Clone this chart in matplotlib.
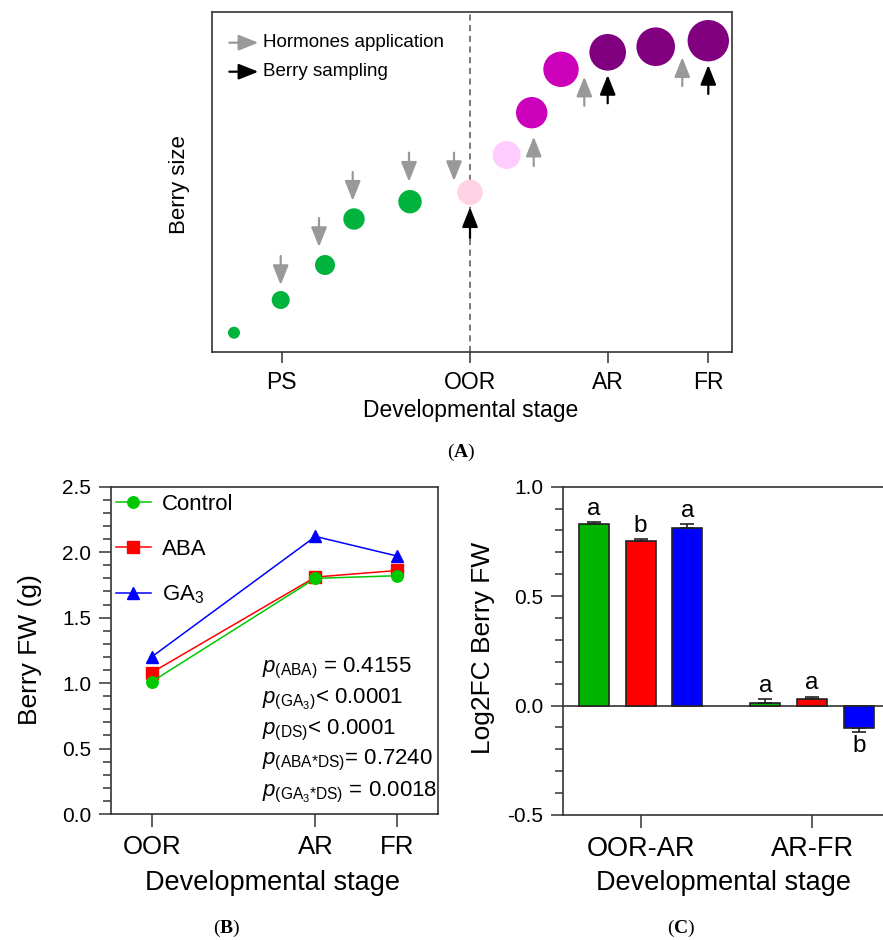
import matplotlib
matplotlib.use("Agg")
import matplotlib.pyplot as plt
from matplotlib.ticker import MultipleLocator

plt.rcParams['font.family'] = ['Liberation Sans', 'DejaVu Sans']
plt.rcParams['mathtext.fontset'] = 'custom'
plt.rcParams['mathtext.rm'] = 'Liberation Sans'
plt.rcParams['mathtext.it'] = 'Liberation Sans:italic'
plt.rcParams['mathtext.bf'] = 'Liberation Serif:bold'

# ---------------- data ----------------
# Panel A: berry growth scheme (arbitrary time / size units)
stage_ticks_A = [70, 258.3, 396, 496.6]
stage_labels_A = ['PS', 'OOR', 'AR', 'FR']
berry_time = [22.3, 69, 113.3, 142.3, 198.3, 258.3, 295, 320, 349.3, 396, 444, 496.6]
berry_size = [19, 51.7, 86.7, 132.7, 150, 159.4, 196.7, 239, 282.4, 299.4, 305, 311]
berry_radius_px = [6, 9, 10, 10.7, 11.7, 12.7, 14, 15.7, 17.7, 18.3, 19.3, 20.7]
berry_colors = ['#00B33C'] * 5 + ['#FFD3E3', '#FFCCFF', '#CC00BB', '#CC00BB',
                                  '#800080', '#800080', '#800080']
# hormone application arrows (x, tail y, tip y)
horm_x = [69, 107.3, 141, 197.3, 242.3, 322, 372.6, 470.6]
horm_tail = [95.7, 133.7, 179.7, 199, 199, 185.7, 246, 265.7]
horm_tip = [66.7, 104.7, 151, 170, 170.7, 215, 275, 294.4]
# berry sampling arrows
samp_x = [258.3, 396, 496.6]
samp_tail = [113.7, 248.4, 257.7]
samp_tip = [144.4, 276.7, 286.7]

# Panel B: berry fresh weight (g)
stages_B = ['OOR', 'AR', 'FR']
stage_pos_B = [0, 2, 3]
fw_control = [1.01, 1.80, 1.82]
fw_aba = [1.08, 1.81, 1.86]
fw_ga3 = [1.20, 2.12, 1.97]
p_texts = [r'$p_{(\mathrm{ABA})}$ = 0.4155',
           r'$p_{(\mathrm{GA}_3)}$< 0.0001',
           r'$p_{(\mathrm{DS})}$< 0.0001',
           r'$p_{(\mathrm{ABA{*}DS})}$= 0.7240',
           r'$p_{(\mathrm{GA}_3\mathrm{{*}DS})}$ = 0.0018']

# Panel C: Log2FC berry FW
groups_C = ['OOR-AR', 'AR-FR']
lfc_control = [0.83, 0.014]
lfc_aba = [0.75, 0.029]
lfc_ga3 = [0.81, -0.104]
err_control = [0.010, 0.014]
err_aba = [0.009, 0.012]
err_ga3 = [0.018, 0.017]
let_control = ['a', 'a']
let_aba = ['b', 'a']
let_ga3 = ['a', 'b']

# ---------------- figure ----------------
W, H = 883, 940
fig = plt.figure(figsize=(W / 100, H / 100), dpi=100)

def frac(px_left, px_top, px_right, px_bottom):
    return [px_left / W, 1 - px_bottom / H, (px_right - px_left) / W, (px_bottom - px_top) / H]

spine_col = '#333333'

# ===== Panel A =====
axA = fig.add_axes(frac(211.7, 11.7, 731.7, 351.7))
axA.set_xlim(0, 520)
axA.set_ylim(0, 340)
for s in axA.spines.values():
    s.set_color(spine_col)
    s.set_linewidth(1.2)
axA.axvline(stage_ticks_A[1], color='#555555', lw=1.1, ls=(0, (4, 3)), zorder=1)
sizes = [(2 * r * 0.72) ** 2 for r in berry_radius_px]
axA.scatter(berry_time, berry_size, s=sizes, c=berry_colors, edgecolors='none', zorder=3)

def arrow(ax, x0, y0, x1, y1, color):
    ax.annotate('', xy=(x1, y1), xytext=(x0, y0),
                arrowprops=dict(arrowstyle='-|>,head_length=0.6,head_width=0.24',
                                color=color, lw=1.6, mutation_scale=20,
                                shrinkA=0, shrinkB=0), zorder=4)

for x, t0, t1 in zip(horm_x, horm_tail, horm_tip):
    arrow(axA, x, t0, x, t1, '#999999')
for x, t0, t1 in zip(samp_x, samp_tail, samp_tip):
    arrow(axA, x, t0, x, t1, 'black')
# legend of panel A
arrow(axA, 17.6, 309, 46.6, 309, '#999999')
arrow(axA, 17.6, 280, 46.6, 280, 'black')
axA.text(51.6, 309, 'Hormones application', fontsize=13.5, va='center', ha='left')
axA.text(51.6, 280, 'Berry sampling', fontsize=13.5, va='center', ha='left')

axA.set_xticks(stage_ticks_A, stage_labels_A)
axA.set_yticks([])
axA.tick_params(axis='x', direction='out', length=8, width=1.1, color=spine_col,
                labelsize=16.5, pad=6)
fig.text(180 / W, 1 - 185 / H, 'Berry size', rotation=90, ha='center', va='center', fontsize=16)
fig.text(471 / W, 1 - 410 / H, 'Developmental stage', ha='center', va='center', fontsize=16.5)
fig.text(461 / W, 1 - 452 / H, r'($\mathbf{A}$)', ha='center', va='center', fontsize=14,
         family='Liberation Serif')

# ===== Panel B =====
axB = fig.add_axes(frac(110.7, 486.7, 438.3, 814))
axB.set_xlim(-0.5, 3.5)
axB.set_ylim(0, 2.5)
for s in axB.spines.values():
    s.set_color(spine_col)
    s.set_linewidth(1.2)
lw = 1.1
axB.plot(stage_pos_B, fw_ga3, color='#0000FF', marker='^', ms=9, lw=lw, label=r'GA$_3$', zorder=2)
axB.plot(stage_pos_B, fw_aba, color='#FF0000', marker='s', ms=8.3, lw=lw, label='ABA', zorder=3)
axB.plot(stage_pos_B, fw_control, color='#00C800', marker='o', ms=8.3, lw=lw, label='Control', zorder=4)
h, l = axB.get_legend_handles_labels()
order = [2, 1, 0]
axB.legend([h[i] for i in order], [l[i] for i in order], loc='upper left',
           bbox_to_anchor=(0.015, 0.978), frameon=False, fontsize=16, handlelength=1.58,
           handletextpad=0.5, labelspacing=1.07, borderpad=0, borderaxespad=0, numpoints=1)
axB.set_xticks(stage_pos_B, stages_B)
axB.yaxis.set_major_locator(MultipleLocator(0.5))
axB.yaxis.set_minor_locator(MultipleLocator(0.1))
axB.yaxis.set_major_formatter(matplotlib.ticker.FormatStrFormatter('%.1f'))
axB.tick_params(axis='both', which='major', direction='out', length=9, width=1.1,
                color=spine_col, labelsize=15, pad=5)
axB.tick_params(axis='x', labelsize=18.5, pad=6)
axB.tick_params(axis='y', which='minor', direction='out', length=5.5, width=1.1, color=spine_col)
axB.tick_params(axis='x', which='minor', bottom=False)
p_y = [668.3, 699.3, 730, 760.7, 792.3]
for txt, yp in zip(p_texts, p_y):
    axB.text(0.462, 1 - (yp - 486.7) / 327.3, txt, transform=axB.transAxes,
             fontsize=16, ha='left', va='center')
fig.text(30 / W, 1 - 650 / H, 'Berry FW (g)', rotation=90, ha='center', va='center', fontsize=19)
fig.text(272.5 / W, 1 - 883 / H, 'Developmental stage', ha='center', va='center', fontsize=19.5)
fig.text(227 / W, 1 - 928 / H, r'($\mathbf{B}$)', ha='center', va='center', fontsize=14,
         family='Liberation Serif')

# ===== Panel C =====
axC = fig.add_axes(frac(562.7, 486.7, 883, 815))
axC.set_xlim(-0.455, 1.414)
axC.set_ylim(-0.5, 1.0)
for s in axC.spines.values():
    s.set_color(spine_col)
    s.set_linewidth(1.2)
axC.spines['right'].set_visible(False)
axC.axhline(0, color=spine_col, lw=1.2, zorder=1)
off = 0.2724
bw = 0.175
series = [(lfc_control, err_control, let_control, '#00B400', -off),
          (lfc_aba, err_aba, let_aba, '#FF0000', 0.0),
          (lfc_ga3, err_ga3, let_ga3, '#0000FF', off)]
for vals, errs, lets, col, dx in series:
    xs = [i + dx for i in range(len(groups_C))]
    lower = [0 if v >= 0 else e for v, e in zip(vals, errs)]
    upper = [e if v >= 0 else 0 for v, e in zip(vals, errs)]
    axC.bar(xs, vals, width=bw, color=col, edgecolor='#222222', linewidth=1.2, zorder=2)
    axC.errorbar(xs, vals, yerr=[lower, upper], fmt='none', ecolor='#222222',
                 elinewidth=1.2, capsize=5.2, capthick=1.2, zorder=3)
    for x, v, e, t in zip(xs, vals, errs, lets):
        if v >= 0:
            axC.text(x, v + e + 0.01, t, ha='center', va='bottom', fontsize=17.5)
        else:
            axC.text(x, v - e - 0.012, t, ha='center', va='top', fontsize=17.5)
axC.set_xticks(range(len(groups_C)), groups_C)
axC.yaxis.set_major_locator(MultipleLocator(0.5))
axC.yaxis.set_minor_locator(MultipleLocator(0.1))
axC.yaxis.set_major_formatter(matplotlib.ticker.FormatStrFormatter('%.1f'))
axC.tick_params(axis='both', which='major', direction='out', length=9, width=1.1,
                color=spine_col, labelsize=15, pad=5)
axC.tick_params(axis='x', labelsize=19.5, pad=6)
axC.tick_params(axis='y', which='minor', direction='out', length=5.5, width=1.1, color=spine_col)
fig.text(483 / W, 1 - 648 / H, 'Log2FC Berry FW', rotation=90, ha='center', va='center', fontsize=19)
fig.text(723 / W, 1 - 883 / H, 'Developmental stage', ha='center', va='center', fontsize=19.5)
fig.text(681 / W, 1 - 928 / H, r'($\mathbf{C}$)', ha='center', va='center', fontsize=14,
         family='Liberation Serif')

fig.savefig('out.png', dpi=100)
